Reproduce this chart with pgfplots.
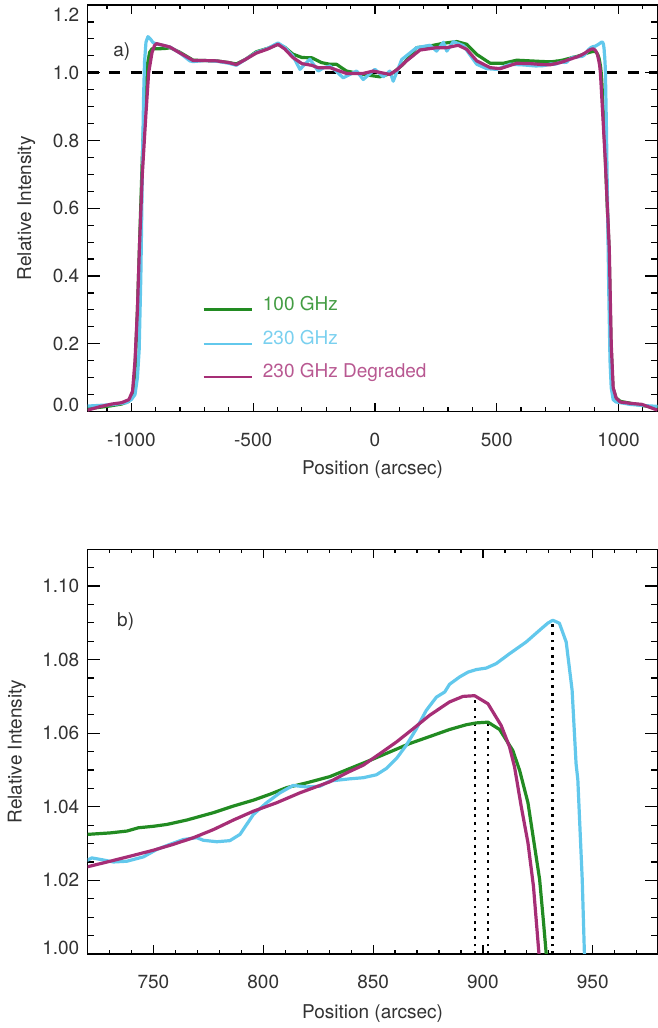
\documentclass[border=0pt]{standalone}
\usepackage{fontspec}
\setmainfont{TeX Gyre Heros}
\usepackage{pgfplots}
\usepackage{pgfplotstable}
\pgfplotsset{compat=1.18}

\definecolor{cgreen}{RGB}{34,139,34}
\definecolor{ccyan}{RGB}{98,200,236}
\definecolor{cmag}{RGB}{166,46,118}
\definecolor{txt}{RGB}{50,50,50}

% 100 GHz
\pgfplotstableread{
x y
-1180 0.008
-1100 0.015
-1040 0.022
-1010 0.03
-995 0.05
-985 0.12
-975 0.3
-966 0.5
-955 0.75
-945 0.92
-935 1.02
-925 1.06
-915 1.071
-880 1.071
-856 1.072
-840 1.074
-800 1.06
-746 1.037
-700 1.036
-650 1.035
-600 1.03
-569 1.026
-530 1.04
-487 1.062
-440 1.072
-398 1.084
-370 1.075
-337 1.055
-300 1.045
-259 1.044
-220 1.03
-185 1.025
-158 1.025
-117 1.005
-48 0.995
20 0.988
75 1.0
116 1.025
171 1.074
226 1.079
281 1.087
336 1.092
377 1.084
418 1.054
473 1.028
527 1.028
582 1.037
637 1.035
690 1.033
720 1.0325
730.3 1.0329
737.9 1.0334
743.2 1.0343
750 1.0347
756.1 1.0352
765.2 1.0364
777.3 1.0384
786.4 1.0402
795.5 1.0418
803 1.0434
810.6 1.0452
819.7 1.0465
830.3 1.0482
839.4 1.0504
848.5 1.0526
857.6 1.0549
866.7 1.0572
875.8 1.0591
884.8 1.061
892.4 1.0623
897 1.0628
902.3 1.063
907.6 1.061
913.6 1.0553
916.7 1.0499
920.5 1.0411
923.5 1.0293
925.8 1.0203
927.6 1.0085
928.8 1.0001
931 0.98
945 0.76
961 0.48
969 0.2
977 0.07
990 0.04
1007 0.03
1096 0.018
1160 0.01
}\tgreen

% 230 GHz
\pgfplotstableread{
x y
-1180 0.016
-1080 0.02
-1020 0.026
-1000 0.035
-985 0.05
-975 0.1
-968 0.18
-961 0.4
-955 0.7
-950 0.92
-946 1.03
-940 1.09
-932 1.1065
-922 1.1
-911 1.089
-897 1.085
-870 1.081
-842 1.076
-800 1.058
-760 1.035
-746 1.033
-700 1.036
-650 1.034
-600 1.028
-569 1.022
-530 1.04
-487 1.06
-440 1.072
-398 1.088
-370 1.075
-337 1.05
-308 1.01
-267 1.04
-233 1.005
-210 1.015
-185 1.02
-160 1.005
-130 0.985
-75 1.005
-48 0.98
0 1.01
34 0.988
61 1.005
75 0.975
110 1.039
171 1.074
226 1.081
253 1.064
281 1.09
295 1.064
322 1.092
363 1.08
418 1.025
459 1.012
500 1.01
555 1.025
610 1.023
660 1.02
692 1.021
720 1.0255
722 1.0261
725.8 1.0257
731.8 1.025
737.9 1.0252
745.5 1.0264
751.5 1.0284
757.6 1.0298
763.6 1.0311
769.7 1.0316
772.7 1.0309
778.8 1.0305
784.8 1.0308
789.4 1.0325
795.5 1.0379
801.5 1.0411
807.6 1.0438
813.6 1.0458
819.7 1.0454
825.8 1.0456
830.3 1.047
839.4 1.0476
845.5 1.0479
851.5 1.0487
856 1.0504
860.6 1.0531
865.1 1.0567
869.7 1.0612
874.2 1.0662
878.8 1.0698
882.6 1.0712
884.8 1.0733
889.4 1.0753
893.2 1.0766
897 1.0773
901.5 1.0777
906 1.0789
912.1 1.0816
919.7 1.0848
925.8 1.088
929.5 1.0899
931.8 1.0907
934.8 1.0899
937.9 1.0848
940.6 1.0717
942.4 1.0517
943.2 1.0474
944.2 1.0338
945.2 1.0203
946.2 1.0001
950 0.85
955 0.6
960 0.35
965 0.15
970 0.07
978 0.035
990 0.028
1048 0.021
1096 0.018
1160 0.015
}\tcyan

% 230 GHz degraded
\pgfplotstableread{
x y
-1180 0.004
-1130 0.014
-1080 0.022
-1040 0.026
-1010 0.035
-995 0.06
-985 0.15
-975 0.3
-967 0.48
-955 0.7
-940 0.88
-929 1.0
-915 1.06
-905 1.08
-897 1.086
-880 1.083
-842 1.076
-800 1.058
-746 1.036
-700 1.036
-650 1.035
-600 1.03
-569 1.024
-530 1.04
-487 1.058
-440 1.07
-398 1.084
-370 1.07
-337 1.045
-300 1.027
-260 1.022
-233 1.015
-185 1.015
-117 0.998
-48 0.998
-7 1.005
61 0.995
89 1.008
130 1.035
185 1.067
253 1.074
294 1.074
342 1.081
377 1.069
418 1.035
473 1.015
514 1.012
582 1.028
637 1.027
690 1.024
720 1.0237
730.3 1.0252
740.9 1.0268
750 1.0282
759.1 1.0298
768.2 1.0316
777.3 1.0338
786.4 1.0364
795.5 1.0388
806.1 1.0411
816.7 1.0438
830.3 1.0468
837.9 1.0492
845.5 1.0513
853 1.0544
860.6 1.0576
868.2 1.0612
875.8 1.0649
884.8 1.0685
890.9 1.07
896.2 1.0702
902.3 1.068
908.3 1.0621
912.1 1.0563
914.4 1.0508
917.4 1.0402
920.5 1.0302
923 1.0184
925.5 1.0001
928 0.97
945 0.75
962 0.48
970 0.2
978 0.07
990 0.04
1007 0.028
1050 0.024
1096 0.021
1130 0.012
1160 0.004
}\tmag

\pgfplotsset{
  panel/.style={
    scale only axis, width=285pt,
    clip mode=individual,
    axis line style={line width=0.6pt},
    tick style={line width=0.6pt, black},
    major tick length=6.3pt, minor tick length=3.3pt,
    x tick style={/pgfplots/major tick length=4.3pt, /pgfplots/minor tick length=2.1pt},
    tick align=inside,
    font=\fontsize{9.5}{11}\selectfont,
    tick label style={text=txt},
    label style={text=txt},
    /pgf/number format/assume math mode=true,
    /pgf/number format/1000 sep={},
    xticklabel style={anchor=base, yshift=-17.3pt},
    yticklabel style={xshift=-0.6pt},
  },
  curve/.style={line width=1.6pt, line join=round},
  dots/.style={black, line width=1.4pt, dash pattern=on 1.4pt off 2.4pt},
}

\begin{document}
\begin{tikzpicture}
\path[use as bounding box] (0,0) rectangle (329pt,514pt);

% panel a
\begin{axis}[panel, at={(43.75pt,308.25pt)}, anchor=south west, height=203.25pt,
  xmin=-1180, xmax=1160, ymin=0, ymax=1.2,
  xtick={-1000,-500,0,500,1000},
  minor xtick={-1100,-1000,...,1100},
  ytick={0,0.2,0.4,0.6,0.8,1.0,1.2},
  yticklabels={{},0.2,0.4,0.6,0.8,1.0,{}},
  minor ytick={0,0.05,...,1.2},
  xlabel={Position (arcsec)}, ylabel={Relative Intensity},
  xlabel style={at={(axis description cs:0.5,-0.156)}, anchor=base},
  ylabel style={at={(axis description cs:-0.099,0.5)}, anchor=base},
]
\addplot[black, line width=1.35pt, dash pattern=on 5.5pt off 5.3pt] coordinates {(-1180,1) (1160,1)};
\addplot[curve, cgreen] table[x=x, y=y] {\tgreen};
\addplot[curve, ccyan] table[x=x, y=y] {\tcyan};
\addplot[curve, cmag] table[x=x, y=y] {\tmag};

\addplot[cgreen, line width=1.4pt] coordinates {(-703,0.3005) (-503,0.3005)};
\addplot[ccyan, line width=1.4pt] coordinates {(-703,0.199) (-503,0.199)};
\addplot[cmag, line width=1.4pt] coordinates {(-703,0.102) (-503,0.102)};
\node[anchor=base west, text=cgreen!85!white] at (axis cs:-489,0.2967) {100 GHz};
\node[anchor=base west, text=ccyan!85!white] at (axis cs:-489,0.1975) {230 GHz};
\node[anchor=base west, text=cmag!80!white] at (axis cs:-489,0.099) {230 GHz Degraded};

\node[anchor=base west, text=txt] at (axis cs:-1103,1.048) {a)};
\node[anchor=east, text=txt, xshift=-0.6pt, yshift=-5pt] at (rel axis cs:0,1) {1.2};
\node[anchor=east, text=txt, xshift=-0.6pt, yshift=3.2pt] at (rel axis cs:0,0) {0.0};
\end{axis}

% panel b
\begin{axis}[panel, at={(43.75pt,37pt)}, anchor=south west, height=202.35pt,
  xmin=720, xmax=979.5, ymin=1.0, ymax=1.11,
  xtick={750,800,850,900,950},
  minor xtick={730,740,...,970},
  ytick={1.00,1.02,1.04,1.06,1.08,1.10},
  yticklabels={{},1.02,1.04,1.06,1.08,1.10},
  minor ytick={1.005,1.01,...,1.105},
  xlabel={Position (arcsec)}, ylabel={Relative Intensity},
  xlabel style={at={(axis description cs:0.5,-0.1606)}, anchor=base},
  ylabel style={at={(axis description cs:-0.1158,0.5)}, anchor=base},
]
\addplot[dots] coordinates {(896.4,1.0) (896.4,1.0701)};
\addplot[dots] coordinates {(902.3,1.0) (902.3,1.063)};
\addplot[dots] coordinates {(931.8,1.0) (931.8,1.0907)};
\addplot[curve, cgreen] table[x=x, y=y] {\tgreen};
\addplot[curve, ccyan] table[x=x, y=y] {\tcyan};
\addplot[curve, cmag] table[x=x, y=y] {\tmag};

\node[anchor=base west, text=txt] at (axis cs:730.3,1.0891) {b)};
\node[anchor=east, text=txt, xshift=-0.6pt, yshift=2.8pt] at (rel axis cs:0,0) {1.00};
\end{axis}
\end{tikzpicture}
\end{document}
